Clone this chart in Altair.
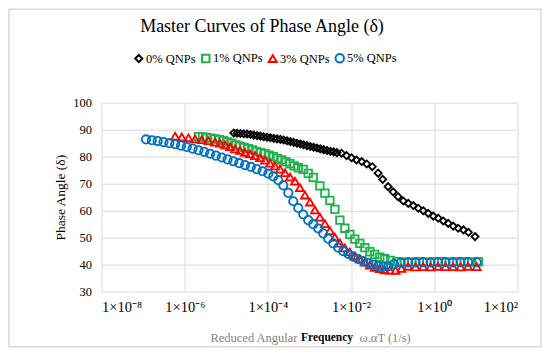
import altair as alt
import pandas as pd

# ---- data (x as log10 of reduced angular frequency) ----
series_names = ["0% QNPs", "1% QNPs", "3% QNPs", "5% QNPs"]
series_colors = ["#000000", "#1fb24a", "#ff0000", "#0070c0"]
series_shapes = ["diamond", "square", "triangle-up", "circle"]
series_sizes = [50, 70, 74, 60]

q0_logw = [-4.82, -4.74, -4.66, -4.58, -4.50, -4.42, -4.34, -4.26, -4.18, -4.10,
           -4.02, -3.94, -3.86, -3.78, -3.70, -3.62, -3.54, -3.46, -3.38, -3.30,
           -3.22, -3.14, -3.06, -2.98, -2.90, -2.82, -2.74, -2.66, -2.58, -2.50,
           -2.42, -2.34, -2.23, -2.11, -1.99, -1.87, -1.745, -1.625, -1.49, -1.35,
           -1.24, -1.11, -0.99, -0.87, -0.745, -0.625, -0.505, -0.385, -0.265, -0.145,
           -0.025, 0.095, 0.215, 0.335, 0.455, 0.575, 0.70, 0.82, 0.98]
q0_delta = [88.8, 88.7, 88.6, 88.5, 88.4, 88.2, 88.0, 87.8, 87.6, 87.4,
            87.2, 87.0, 86.8, 86.6, 86.4, 86.2, 85.9, 85.6, 85.3, 85.0,
            84.7, 84.4, 84.1, 83.8, 83.5, 83.2, 82.9, 82.6, 82.3, 82.0,
            81.8, 81.5, 81.3, 80.4, 79.6, 78.8, 78.2, 77.3, 76.3, 73.9,
            71.6, 68.9, 67.0, 65.2, 63.6, 62.7, 61.9, 60.9, 60.0, 59.0,
            58.0, 57.2, 56.2, 55.3, 54.3, 53.5, 52.9, 52.0, 50.4]

q1_logw = [-5.67, -5.57, -5.47, -5.37, -5.27, -5.17, -5.07, -4.97, -4.87, -4.77,
           -4.67, -4.57, -4.47, -4.37, -4.27, -4.17, -4.07, -3.97, -3.87, -3.77,
           -3.67, -3.57, -3.47, -3.37, -3.27, -3.15, -3.03, -2.91, -2.75, -2.63,
           -2.51, -2.39, -2.27, -2.15, -2.03, -1.91, -1.79, -1.67, -1.55, -1.43,
           -1.31, -1.19, -1.05, -0.90, -0.72, -0.54, -0.36, -0.18, 0.0, 0.18,
           0.36, 0.54, 0.72, 0.90, 1.06]
q1_delta = [87.4, 87.3, 87.1, 86.9, 86.6, 86.3, 86.0, 85.5, 85.0, 84.4,
            83.9, 83.4, 83.0, 82.5, 82.0, 81.5, 81.1, 80.6, 80.0, 79.4,
            78.8, 78.1, 77.4, 76.6, 75.9, 75.3, 73.8, 72.3, 69.2, 66.5,
            63.8, 60.5, 56.5, 53.5, 51.2, 49.5, 47.9, 46.3, 44.8, 43.8,
            42.8, 42.2, 41.6, 41.1, 41.0, 41.0, 41.1, 41.0, 41.1, 41.1,
            41.0, 41.1, 41.1, 41.0, 41.1]

q3_logw = [-6.23, -6.07, -5.91, -5.75, -5.59, -5.43, -5.27, -5.15, -5.03, -4.91,
           -4.79, -4.67, -4.55, -4.43, -4.31, -4.19, -4.07, -3.95, -3.83, -3.71,
           -3.59, -3.47, -3.35, -3.23, -3.11, -2.99, -2.87, -2.75, -2.63, -2.51,
           -2.39, -2.27, -2.15, -2.03, -1.91, -1.79, -1.67, -1.55, -1.43, -1.31,
           -1.19, -1.07, -0.93, -0.79, -0.63, -0.45, -0.27, -0.09, 0.09, 0.27,
           0.45, 0.63, 0.81, 1.02]
q3_delta = [87.6, 87.3, 87.0, 86.6, 86.3, 85.9, 85.4, 85.0, 84.4, 83.7,
            82.9, 82.3, 81.6, 81.0, 80.4, 79.6, 78.7, 77.6, 76.6, 75.4,
            74.1, 72.5, 70.9, 68.5, 65.8, 63.2, 60.3, 57.6, 55.2, 52.6,
            50.2, 48.0, 46.2, 44.7, 43.3, 42.1, 40.9, 39.8, 39.0, 38.5,
            38.1, 38.0, 37.9, 38.6, 39.4, 39.2, 39.3, 39.2, 39.4, 39.3,
            39.3, 39.2, 39.4, 39.3]

q5_logw = [-6.93, -6.79, -6.65, -6.51, -6.37, -6.23, -6.09, -5.95, -5.81, -5.67,
           -5.53, -5.39, -5.25, -5.11, -4.97, -4.83, -4.69, -4.55, -4.41, -4.27,
           -4.13, -3.99, -3.87, -3.75, -3.63, -3.51, -3.39, -3.27, -3.15, -3.03,
           -2.91, -2.79, -2.67, -2.55, -2.43, -2.31, -2.19, -2.07, -1.95, -1.83,
           -1.71, -1.59, -1.47, -1.35, -1.23, -1.11, -0.97, -0.81, -0.63, -0.45,
           -0.27, -0.09, 0.09, 0.27, 0.45, 0.63, 0.81, 1.02]
q5_delta = [86.4, 86.1, 85.8, 85.4, 85.0, 84.6, 84.1, 83.6, 83.0, 82.4,
            81.8, 81.1, 80.4, 79.7, 79.0, 78.3, 77.6, 76.9, 76.2, 75.4,
            74.6, 73.7, 72.7, 71.3, 69.4, 66.6, 63.5, 61.0, 58.6, 56.5,
            55.0, 53.4, 51.6, 49.6, 47.9, 46.3, 45.0, 44.0, 43.0, 42.1,
            41.3, 40.6, 40.0, 39.5, 39.3, 39.4, 40.2, 40.7, 40.8, 40.8,
            40.9, 40.8, 40.9, 40.9, 40.8, 40.9, 40.9, 40.9]

x_exponents = [-8, -6, -4, -2, 0, 2]
x_tick_labels = ["1×10⁻⁸", "1×10⁻⁶", "1×10⁻⁴", "1×10⁻²", "1×10⁰", "1×10²"]
y_ticks = [30, 40, 50, 60, 70, 80, 90, 100]

title_text = "Master Curves of Phase Angle (δ)"
y_title = "Phase Angle (δ)"
x_title_parts = ["Reduced Angular", "Frequency", "ω.αT (1/s)"]

# ---- build table ----
rows = []
for name, lw, dv in zip(series_names, [q0_logw, q1_logw, q3_logw, q5_logw],
                        [q0_delta, q1_delta, q3_delta, q5_delta]):
    for a, b in zip(lw, dv):
        rows.append({"series": name, "w": 10 ** a, "delta": b})
df = pd.DataFrame(rows)

label_expr = " : ".join(
    f"round(log(datum.value)/LN10) == {e} ? '{t}'" for e, t in zip(x_exponents, x_tick_labels)
) + " : ''"

FONT = "Liberation Serif"
W, H = 416, 189

points = alt.Chart(df).mark_point(filled=False, strokeWidth=1.8, opacity=1).encode(
    x=alt.X("w:Q", scale=alt.Scale(type="log", domain=[1e-8, 1e2]),
            axis=alt.Axis(values=[10.0 ** e for e in x_exponents], labelExpr=label_expr,
                          title=None, grid=True, domain=False, ticks=False,
                          labelFontSize=14.5, labelPadding=9, labelColor="#000",
                          labelFont=FONT, gridColor="#d9d9d9")),
    y=alt.Y("delta:Q", scale=alt.Scale(domain=[30, 100]),
            axis=alt.Axis(values=y_ticks, title=y_title, grid=True, domain=False, ticks=False,
                          labelFontSize=12.5, labelPadding=10, labelColor="#000",
                          labelFont=FONT, titleFont=FONT, titleFontSize=13.5,
                          titleFontWeight="normal", titleColor="#000", titlePadding=5,
                          gridColor="#d9d9d9")),
    color=alt.Color("series:N", scale=alt.Scale(domain=series_names, range=series_colors),
                    legend=alt.Legend(title=None, orient="none", legendX=31, legendY=-51,
                                      direction="horizontal", columns=4, labelFont=FONT,
                                      labelFontSize=12.5, labelColor="#000", symbolSize=42,
                                      symbolStrokeWidth=2, labelOffset=1, columnPadding=1,
                                      symbolFillColor="transparent")),
    shape=alt.Shape("series:N", scale=alt.Scale(domain=series_names, range=series_shapes)),
    size=alt.Size("series:N", scale=alt.Scale(domain=series_names, range=series_sizes), legend=None),
    order=alt.Order("series:N"),
)

one = pd.DataFrame({"k": [0]})
border = alt.Chart(one).mark_rect(fill="transparent", stroke="#d9d9d9", strokeWidth=1.5).encode(
    x=alt.value(-92.5), x2=alt.value(W + 23.5), y=alt.value(-93.5), y2=alt.value(H + 55)
)
title = alt.Chart(one).mark_text(font=FONT, fontSize=18, color="#000", baseline="middle",
                                 align="center").encode(
    x=alt.value(160.5), y=alt.value(-75.5), text=alt.value(title_text))
xt1 = alt.Chart(one).mark_text(font=FONT, fontSize=12.5, color="#808080", baseline="middle",
                               align="right").encode(
    x=alt.value(196), y=alt.value(235.5), text=alt.value(x_title_parts[0]))
xt2 = alt.Chart(one).mark_text(font=FONT, fontSize=11.5, color="#000", fontWeight="bold",
                               baseline="middle", align="left").encode(
    x=alt.value(199.5), y=alt.value(235.5), text=alt.value(x_title_parts[1]))
xt3 = alt.Chart(one).mark_text(font=FONT, fontSize=12.5, color="#808080", baseline="middle",
                               align="left").encode(
    x=alt.value(258), y=alt.value(235.5), text=alt.value(x_title_parts[2]))

chart = alt.layer(border, points, title, xt1, xt2, xt3).properties(
    width=W, height=H,
    autosize=alt.AutoSizeParams(type="none"),
    padding={"left": 93.5, "top": 94.7, "right": 24.5, "bottom": 56},
    background="white",
).configure_view(stroke=None)

chart.save("out.html", embed_options={"renderer": "svg", "actions": False})
